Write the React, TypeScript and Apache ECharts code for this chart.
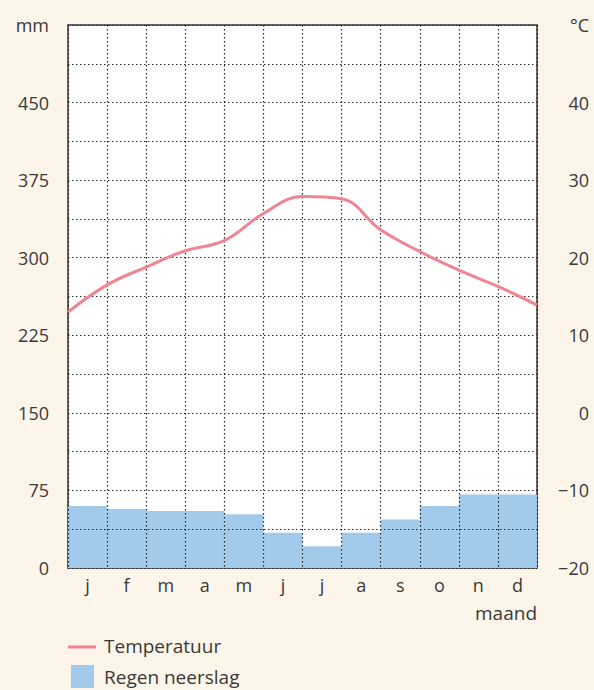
import React, { useEffect, useRef } from "react";
import * as echarts from "echarts";

const months = ["j", "f", "m", "a", "m", "j", "j", "a", "s", "o", "n", "d"];
const rainfall = [60, 57, 55, 55, 52, 34, 21, 34, 47, 60, 71, 71];
const tempPositions = [0, 1, 2, 3, 4, 5, 6, 7, 8, 9, 10, 11, 12];
const temperature = [13.0, 16.5, 18.8, 20.9, 22.2, 25.7, 27.9, 27.6, 23.6, 20.8, 18.4, 16.3, 13.9];
const legendLabels = ["Temperatuur", "Regen neerslag"];
const axisUnitLeft = "mm";
const axisUnitRight = "°C";
const xAxisName = "maand";

const FONT = "'Open Sans', sans-serif";
const TEXT = "#3a3a3a";
const BG = "#fdf5e9";
const BAR = "#a2caeb";
const LINE = "#f08492";

export default function App() {
  const ref = useRef<HTMLDivElement>(null);
  useEffect(() => {
    document.body.style.margin = "0";
    document.body.style.background = BG;
    const chart = echarts.init(ref.current!, null, { renderer: "svg" });
    const dotted = { color: "#222", width: 1.2, type: [1.4, 2.6] as any };
    chart.setOption({
      animation: false,
      backgroundColor: BG,
      textStyle: { fontFamily: FONT },
      grid: {
        left: 68,
        right: 57,
        top: 25,
        bottom: 122,
        show: true,
        backgroundColor: "#ffffff",
        borderColor: "#333",
        borderWidth: 1.5,
        z: 0,
      },
      xAxis: [
        {
          type: "category",
          data: months,
          boundaryGap: true,
          z: 3,
          axisLine: { show: false },
          axisTick: { show: false },
          axisLabel: { interval: 0, margin: 8, color: TEXT, fontSize: 18, fontFamily: FONT },
          splitLine: { show: true, interval: 0, lineStyle: dotted },
        },
        {
          type: "value",
          min: 0,
          max: 12,
          show: false,
        },
      ],
      yAxis: [
        {
          type: "value",
          min: 0,
          max: 525,
          interval: 37.5,
          z: 3,
          axisLine: { show: false },
          axisTick: { show: false },
          axisLabel: {
            margin: 19,
            color: TEXT,
            fontSize: 18,
            fontFamily: FONT,
            showMinLabel: true,
            showMaxLabel: true,
            formatter: (v: number) => (v === 525 ? axisUnitLeft : v % 75 === 0 ? String(v) : ""),
          },
          splitLine: { show: true, lineStyle: dotted },
        },
        {
          type: "value",
          min: -20,
          max: 50,
          interval: 5,
          position: "right",
          axisLine: { show: false },
          axisTick: { show: false },
          splitLine: { show: false },
          axisLabel: {
            margin: 52,
            align: "right",
            color: TEXT,
            fontSize: 18,
            fontFamily: FONT,
            showMinLabel: true,
            showMaxLabel: true,
            formatter: (v: number) =>
              v === 50 ? axisUnitRight : v % 10 === 0 ? (v < 0 ? "\u2212" + Math.abs(v) : String(v)) : "",
          },
        },
      ],
      series: [
        {
          name: legendLabels[1],
          type: "bar",
          xAxisIndex: 0,
          yAxisIndex: 0,
          data: rainfall,
          barWidth: "100%",
          barCategoryGap: "0%",
          itemStyle: { color: BAR },
          z: 2,
        },
        {
          name: legendLabels[0],
          type: "line",
          xAxisIndex: 1,
          yAxisIndex: 1,
          data: tempPositions.map((p, i) => [p, temperature[i]]),
          smooth: 0.4,
          symbol: "none",
          lineStyle: { color: LINE, width: 3 },
          z: 5,
        },
      ],
      graphic: [
        {
          type: "text",
          right: 594 - 537,
          top: 603,
          style: { text: xAxisName, fill: TEXT, font: `19px ${FONT}` },
        },
        {
          type: "line",
          shape: { x1: 68, y1: 647, x2: 96, y2: 647 },
          style: { stroke: LINE, lineWidth: 3 },
        },
        {
          type: "text",
          left: 104,
          top: 636,
          style: { text: legendLabels[0], fill: TEXT, font: `19px ${FONT}` },
        },
        {
          type: "rect",
          shape: { x: 71, y: 665, width: 23, height: 23 },
          style: { fill: BAR },
        },
        {
          type: "text",
          left: 104,
          top: 667,
          style: { text: legendLabels[1], fill: TEXT, font: `19px ${FONT}` },
        },
      ],
    });
    return () => chart.dispose();
  }, []);
  return <div ref={ref} style={{ width: 594, height: 690 }} />;
}
